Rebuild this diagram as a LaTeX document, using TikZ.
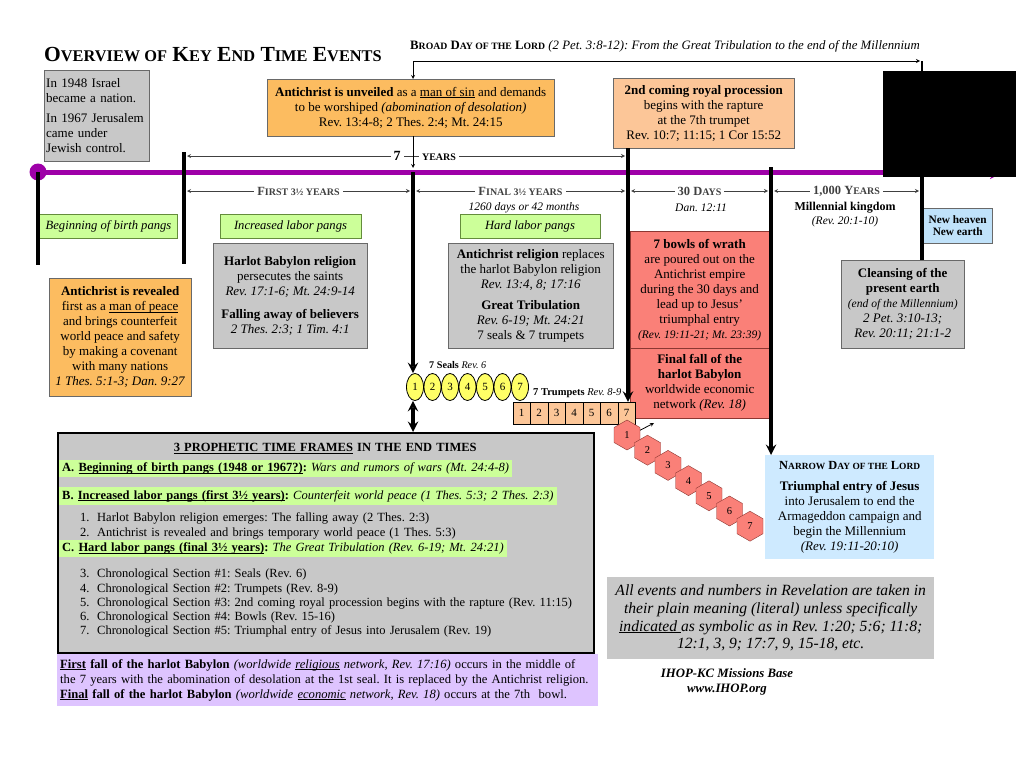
\documentclass[tikz,border=0pt]{standalone}
\usepackage{fontspec}
\setmainfont{Liberation Serif}
\usepackage{graphicx}
\usepackage{tikz}
\usetikzlibrary{shapes, arrows, positioning}

\definecolor{boxgray}{RGB}{200,200,200}
\definecolor{edgegray}{RGB}{105,105,105}
\definecolor{unveilorange}{RGB}{252,188,96}
\definecolor{peach}{RGB}{252,198,152}
\definecolor{pangsgreen}{RGB}{204,255,153}
\definecolor{pangsedge}{RGB}{100,140,60}
\definecolor{wrathred}{RGB}{250,128,120}
\definecolor{wrathedge}{RGB}{140,55,50}
\definecolor{sealyellow}{RGB}{255,255,102}
\definecolor{skyblue}{RGB}{206,234,255}
\definecolor{heavenblue}{RGB}{192,226,250}
\definecolor{timepurple}{RGB}{158,0,168}
\definecolor{lavender}{RGB}{222,196,255}

\newcommand{\smc}[2][0.76]{\scalebox{#1}{#2}}
\newcommand{\fsz}[2]{\fontsize{#1}{#2}\selectfont}
\newcommand{\hl}[1]{\colorbox{pangsgreen}{#1}}
\newcommand{\ul}[1]{\underline{\smash{#1}}}
\newcommand{\itm}[2]{\hspace*{21pt}\makebox[17pt][l]{#1}#2}
\frenchspacing

\begin{document}
\begin{tikzpicture}[x=1pt, y=-1pt, >=stealth,
    every node/.style={inner sep=2pt, font=\fsz{13}{15}},
    infobox/.style={draw=edgegray, fill=boxgray, align=center, inner sep=3pt, anchor=north west},
    pangs/.style={draw=pangsedge, fill=pangsgreen, font=\fsz{12.6}{14}\itshape, minimum height=24, inner sep=1pt},
    era/.style={line width=3.5pt},
    span/.style={<->, black!75, line width=0.8pt},
    spanlabel/.style={fill=white, inner sep=3pt, font=\fsz{12.5}{14}\bfseries},
    seal/.style={ellipse, draw, thick, fill=sealyellow, minimum width=17, minimum height=27, inner sep=0pt, font=\fsz{11}{12}},
    trumpet/.style={draw, fill=peach, minimum width=17.5, minimum height=22, inner sep=0pt, font=\fsz{11}{12}},
    bowl/.style={regular polygon, regular polygon sides=6, shape border rotate=30, draw=wrathedge, fill=wrathred, minimum size=30, inner sep=0pt, font=\fsz{10.5}{12}}]
\useasboundingbox[fill=white] (0,0) rectangle (1024,768);

% headings
\node[anchor=base west, font=\fsz{21.5}{24}\bfseries] (title) at (42,62) {O\smc{VERVIEW OF} K\smc{EY} E\smc{ND} T\smc{IME} E\smc{VENTS}};
\node[anchor=base west, font=\fsz{12.8}{14}] (broad) at (408,49) {\textbf{B\smc{ROAD} D\smc{AY OF THE} L\smc{ORD}} \textit{(2 Pet. 3:8-12): From the Great Tribulation to the end of the Millennium}};

% top boxes
\node[infobox, align=left, minimum width=105, minimum height=91, text width=101, inner sep=2pt] (israel) at (44,70) {In 1948 Israel\\ became a nation.\\[5pt] In 1967 Jerusalem\\ came under\\ Jewish control.};
\node[infobox, fill=unveilorange, minimum width=287, minimum height=57] (unveil) at (267,79) {\textbf{Antichrist is unveiled} as a \ul{man of sin} and demands\\ to be worshiped \textit{(abomination of desolation)}\\ Rev. 13:4-8; 2 Thes. 2:4; Mt. 24:15};
\node[infobox, fill=peach, minimum width=181, minimum height=70] (second) at (613,78) {\textbf{2nd coming royal procession}\\ begins with the rapture\\ at the 7th trumpet\\ Rev. 10:7; 11:15; 1 Cor 15:52};

\coordinate (birth) at (38,172);
\coordinate (birthfoot) at (38,265);
\coordinate (firsttop) at (184,152);
\coordinate (firstfoot) at (184,264);
\coordinate (midpt) at (413,172);
\coordinate (raptpt) at (628,150);
\coordinate (armagpt) at (771,167);
\coordinate (millpt) at (922,177);
\coordinate (timeend) at (1004,172);
\coordinate (broadL) at (413,61);
\coordinate (broadR) at (922,61);
\coordinate (sevenL) at (187,156);
\coordinate (sevenR) at (625,156);

% timeline
\draw[timepurple, line width=5pt, ->] (birth) -- (timeend);
\fill[timepurple] (birth) circle (8.5pt);
\node[fill=black, anchor=north west, minimum width=133, minimum height=106, inner sep=0pt] (redact) at (883,71) {};

% broad day of the lord
\draw[->, thick] (broadL) -- ([xshift=-2pt]broadR);
\draw[line width=2.5pt] (broadR) -- (redact.north -| broadR);
\draw[->, thick] (broadL) -- (unveil.north -| broadL);

% seven years
\draw[span] (sevenL) -- (sevenR);
\node[spanlabel, font=\fsz{14}{15}\bfseries] (seven) at (397,156) {7};
\node[spanlabel] (years) at (439,157) {\smc[0.8]{YEARS}};
\draw[->, thick] (midpt |- unveil.south) -- ([yshift=4pt]midpt);

% periods
\foreach \n/\x in {a/187, b/410, c/416, d/625, e/631, f/768, g/774, h/919}
  \coordinate (sp\n) at (\x,191);
\draw[span] (spa) -- (spb) node[midway, spanlabel] (firsthalf) {F\smc[0.8]{IRST 3½ YEARS}};
\draw[span] (spc) -- (spd) node[midway, spanlabel] (finalhalf) {F\smc[0.8]{INAL 3½ YEARS}};
\draw[span] (spe) -- (spf) node[midway, spanlabel] (thirty) {30 D\smc[0.8]{AYS}};
\draw[span] (spg) -- (sph) node[midway, spanlabel] (thousand) {1,000 Y\smc[0.8]{EARS}};
\node[font=\fsz{11.5}{13}\itshape] (days) at (524,208) {1260 days or 42 months};
\node[font=\fsz{11.5}{13}\itshape] (dan) at (701,208) {Dan. 12:11};
\node[font=\fsz{12}{13}\bfseries] (kingdom) at (845,208) {Millennial kingdom};
\node[font=\fsz{11.5}{13}\itshape] (kingref) at (845,222) {(Rev. 20:1-10)};

% labor pangs
\node[pangs, minimum width=138] (birthpangs) at (108.5,226.5) {Beginning of birth pangs};
\node[pangs, minimum width=141] (increased) at (290.5,226.5) {Increased labor pangs};
\node[pangs, minimum width=140] (hardpangs) at (530,226.5) {Hard labor pangs};

% events
\node[infobox, fill=unveilorange, minimum width=142, minimum height=118] (revealed) at (49,278) {\textbf{Antichrist is revealed}\\ first as a \ul{man of peace}\\ and brings counterfeit\\ world peace and safety\\ by making a covenant\\ with many nations\\ \textit{1 Thes. 5:1-3; Dan. 9:27}};
\node[infobox, minimum width=154, minimum height=105] (harlot) at (213,243) {\textbf{Harlot Babylon religion}\\ persecutes the saints\\ \textit{Rev. 17:1-6; Mt. 24:9-14}\\[8pt] \textbf{Falling away of believers}\\ \textit{2 Thes. 2:3; 1 Tim. 4:1}};
\node[infobox, minimum width=165, minimum height=105] (religion) at (448,243) {\textbf{Antichrist religion} replaces\\ the harlot Babylon religion\\ \textit{Rev. 13:4, 8; 17:16}\\[6pt] \textbf{Great Tribulation}\\ \textit{Rev. 6-19; Mt. 24:21}\\ 7 seals \& 7 trumpets};
\node[infobox, fill=wrathred, draw=wrathedge, minimum width=139, minimum height=117] (bowls) at (630,231) {\textbf{7 bowls of wrath}\\ are poured out on the\\ Antichrist empire\\ during the 30 days and\\ lead up to Jesus'\\ triumphal entry\\ {\fsz{11.5}{13}\textit{(Rev. 19:11-21; Mt. 23:39)}}};
\node[infobox, fill=wrathred, draw=wrathedge, minimum width=139, minimum height=70] (finalfall) at (630,348) {\textbf{Final fall of the}\\ \textbf{harlot Babylon}\\ worldwide economic\\ network \textit{(Rev. 18)}};
\node[infobox, fill=heavenblue, minimum width=69, minimum height=35, inner sep=1pt, font=\fsz{11.3}{12.5}\bfseries] (newheaven) at (923,208) {New heaven\\ New earth};
\node[infobox, minimum width=123, minimum height=88] (cleanse) at (841,260) {\textbf{Cleansing of the}\\ \textbf{present earth}\\ {\fsz{11.6}{13}\textit{(end of the Millennium)}}\\ \textit{2 Pet. 3:10-13;}\\ \textit{Rev. 20:11; 21:1-2}};

% seals, trumpets, bowls
\node[anchor=west, font=\fsz{10.2}{11}] (seallabel) at (427,365) {\textbf{7 Seals} \textit{Rev. 6}};
\foreach \i in {1,...,7}
  \node[seal] (s\i) at ({397.5+17.5*\i},387) {\i};
\node[anchor=west, font=\fsz{10.5}{11}] (trumplabel) at (531,393) {\textbf{7 Trumpets} \textit{Rev. 8-9}};
\foreach \i in {1,...,7}
  \node[trumpet] (t\i) at ({504+17.5*\i},413) {\i};
\foreach \i in {1,...,7}
  \node[bowl] (h\i) at ({606.5+20.5*\i},{419.8+15.2*\i}) {\i};
\coordinate (hexaim) at (654,423);
\draw[->, thick] (h1.20) -- (hexaim);

% lower boxes
\node[infobox, fill=skyblue, draw=none, minimum width=169, minimum height=104] (narrow) at (765,455) {{\fsz{12.4}{13}\textbf{N\smc{ARROW} D\smc{AY OF THE} L\smc{ORD}}}\\[6pt] \textbf{Triumphal entry of Jesus}\\ into Jerusalem to end the\\ Armageddon campaign and\\ begin the Millennium\\ \textit{(Rev. 19:11-20:10)}};
\node[infobox, draw=none, minimum width=327, minimum height=82, font=\fsz{15.6}{17.7}\itshape] (note) at (607,577) {All events and numbers in Revelation are taken in\\ their plain meaning (literal) unless specifically\\ \ul{indicated }as symbolic as in Rev. 1:20; 5:6; 11:8;\\ 12:1, 3, 9; 17:7, 9, 15-18, etc.};
\node[font=\fsz{12.8}{14.5}\bfseries\itshape, align=center] (ihop) at (727,682) {IHOP-KC Missions Base\\ www.IHOP.org};

\node[draw, line width=1.6pt, fill=boxgray, anchor=north west, minimum width=536, minimum height=220, inner sep=0pt] (frames) at (57,432) {};
\node[anchor=north west, text width=532, align=left, inner sep=0pt, font=\fsz{12.5}{14.3}] (framestext) at (59,443) {%
  \makebox[532pt][c]{\textbf{\ul{3 PROPHETIC TIME FRAMES} IN THE END TIMES}}\\[6pt]
  \hl{\textbf{A. \ul{Beginning of birth pangs (1948 or 1967?)}:} \textit{Wars and rumors of wars (Mt. 24:4-8)}}\\[9pt]
  \hl{\textbf{B. \ul{Increased labor pangs (first 3½ years)}:} \textit{Counterfeit world peace (1 Thes. 5:3; 2 Thes. 2:3)}}\\[7pt]
  \itm{1.}{Harlot Babylon religion emerges: The falling away (2 Thes. 2:3)}\\
  \itm{2.}{Antichrist is revealed and brings temporary world peace (1 Thes. 5:3)}\\
  \hl{\textbf{C. \ul{Hard labor pangs (final 3½ years)}:} \textit{The Great Tribulation (Rev. 6-19; Mt. 24:21)}}\\[11pt]
  \itm{3.}{Chronological Section \#1: Seals (Rev. 6)}\\
  \itm{4.}{Chronological Section \#2: Trumpets (Rev. 8-9)}\\
  \itm{5.}{Chronological Section \#3: 2nd coming royal procession begins with the rapture (Rev. 11:15)}\\
  \itm{6.}{Chronological Section \#4: Bowls (Rev. 15-16)}\\
  \itm{7.}{Chronological Section \#5: Triumphal entry of Jesus into Jerusalem (Rev. 19)}};
\node[anchor=north west, fill=lavender, text width=535, align=left, inner sep=3pt, minimum height=52, font=\fsz{12.6}{15}] (fallnote) at (57,654) {\ul{\textbf{First}} \textbf{fall of the harlot Babylon} \textit{(worldwide \ul{religious} network, Rev. 17:16)} occurs in the middle of\\ the 7 years with the abomination of desolation at the 1st seal. It is replaced by the Antichrist religion.\\ \ul{\textbf{Final}} \textbf{fall of the harlot Babylon} \textit{(worldwide \ul{economic} network, Rev. 18)} occurs at the 7th\ \ bowl.};

% time markers
\draw[era] (birth) -- (birthfoot);
\draw[era] (firsttop) -- (firstfoot);
\draw[era, ->] (midpt) -- (midpt |- s1.north);
\draw[era, <->] (midpt |- s1.south) -- (midpt |- frames.north);
\draw[era, ->] (raptpt |- second.south) -- (raptpt |- t7.north);
\draw[era, ->] (armagpt) -- (armagpt |- narrow.north);
\draw[era] (millpt) -- (millpt |- cleanse.north);
\end{tikzpicture}
\end{document}
